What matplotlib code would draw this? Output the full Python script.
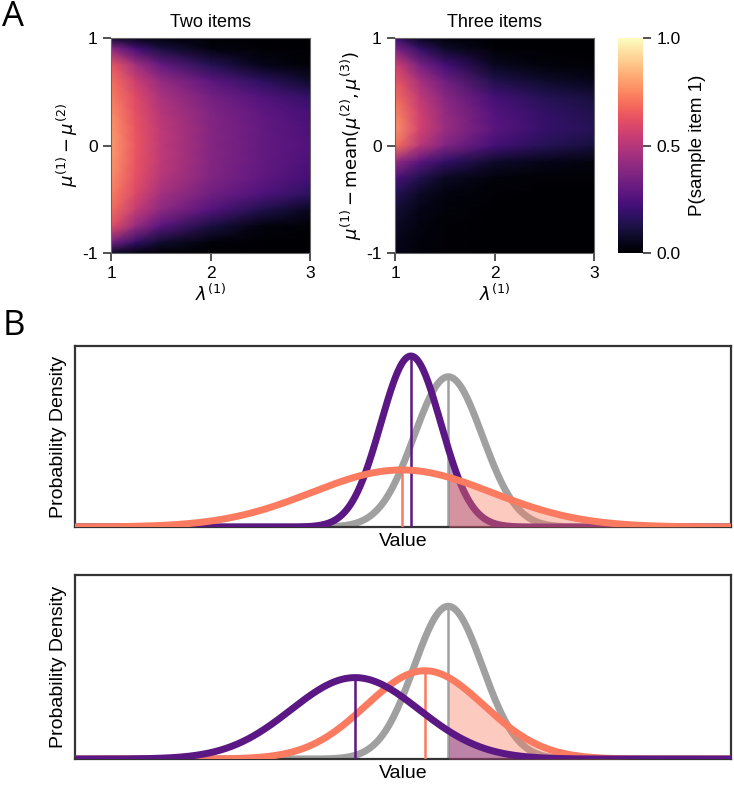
import matplotlib
matplotlib.use("Agg")
import matplotlib.pyplot as plt
import numpy as np

plt.rcParams['font.family'] = ['Liberation Sans', 'DejaVu Sans']
plt.rcParams['axes.unicode_minus'] = False

# ---- panel A data: P(sample item 1) ----
lam = [1.0, 1.25, 1.5, 2.0, 2.5, 3.0]
mu_diff = [1.0, 0.9, 0.75, 0.6, 0.45, 0.3, 0.15, 0.0, -0.15, -0.3, -0.45, -0.6, -0.75, -0.9, -1.0]

# one row per lambda value, columns follow mu_diff
p_two = [
    [0.10, 0.40, 0.64, 0.70, 0.73, 0.76, 0.78, 0.79, 0.78, 0.76, 0.73, 0.69, 0.62, 0.35, 0.08],
    [0.04, 0.22, 0.45, 0.55, 0.60, 0.62, 0.63, 0.64, 0.63, 0.62, 0.59, 0.53, 0.42, 0.18, 0.03],
    [0.02, 0.12, 0.30, 0.42, 0.47, 0.50, 0.52, 0.52, 0.52, 0.50, 0.46, 0.40, 0.27, 0.09, 0.01],
    [0.01, 0.03, 0.15, 0.28, 0.34, 0.37, 0.38, 0.38, 0.38, 0.37, 0.33, 0.26, 0.12, 0.02, 0.00],
    [0.00, 0.01, 0.05, 0.17, 0.26, 0.29, 0.30, 0.30, 0.30, 0.29, 0.25, 0.14, 0.03, 0.00, 0.00],
    [0.00, 0.00, 0.01, 0.08, 0.18, 0.23, 0.24, 0.25, 0.24, 0.22, 0.17, 0.06, 0.01, 0.00, 0.00],
]
p_three = [
    [0.20, 0.36, 0.56, 0.64, 0.69, 0.74, 0.77, 0.70, 0.42, 0.24, 0.15, 0.10, 0.07, 0.05, 0.04],
    [0.06, 0.18, 0.35, 0.46, 0.52, 0.56, 0.57, 0.50, 0.28, 0.14, 0.07, 0.04, 0.03, 0.02, 0.02],
    [0.02, 0.08, 0.22, 0.33, 0.39, 0.42, 0.43, 0.37, 0.18, 0.07, 0.03, 0.02, 0.01, 0.01, 0.01],
    [0.00, 0.01, 0.06, 0.14, 0.22, 0.26, 0.27, 0.22, 0.08, 0.02, 0.01, 0.00, 0.00, 0.00, 0.00],
    [0.00, 0.00, 0.02, 0.08, 0.15, 0.18, 0.19, 0.15, 0.05, 0.01, 0.00, 0.00, 0.00, 0.00, 0.00],
    [0.00, 0.00, 0.01, 0.05, 0.11, 0.14, 0.15, 0.11, 0.03, 0.01, 0.00, 0.00, 0.00, 0.00, 0.00],
]

# ---- panel B data: the three distributions (mean, sd) ----
gray_mean, gray_sd = 0.69, 0.52
top_means = {'purple': 0.12, 'orange': -0.02}
top_sds = {'purple': 0.457, 'orange': 1.37}
bot_means = {'purple': -0.73, 'orange': 0.335}
bot_sds = {'purple': 0.976, 'orange': 0.90}

colors = {'purple': '#5b1783', 'orange': '#fa7b5f', 'gray': '#a0a0a0'}

W, H = 734, 785
fig = plt.figure(figsize=(W / 100, H / 100), dpi=100)


def px_axes(left, top, right, bottom):
    return fig.add_axes([left / W, 1 - bottom / H, (right - left) / W, (bottom - top) / H])


def heatmap(ax, vals, ylabel, title):
    z = np.array(vals).T
    m = ax.pcolormesh(lam, mu_diff, z, shading='gouraud', cmap='magma', vmin=0, vmax=1)
    ax.set_xlim(1, 3)
    ax.set_ylim(-1, 1)
    ax.set_xticks([1, 2, 3])
    ax.set_yticks([-1, 0, 1])
    ax.set_yticklabels(['-1', '0', '1'])
    ax.tick_params(direction='out', length=6, width=1.2, labelsize=12.5, color='#333333')
    for s in ax.spines.values():
        s.set_color('#666666')
        s.set_linewidth(0.8)
    ax.set_xlabel(r'$\lambda^{(1)}$', fontsize=13, labelpad=2)
    ax.set_ylabel(ylabel, fontsize=13, labelpad=2)
    ax.set_title(title, fontsize=13, pad=8)
    return m


ax1 = px_axes(111, 38, 310, 253)
heatmap(ax1, p_two, r'$\mu^{(1)} - \mu^{(2)}$', 'Two items')
ax2 = px_axes(395, 38, 594, 253)
mesh = heatmap(ax2, p_three, r'$\mu^{(1)} - \mathrm{mean}(\mu^{(2)}, \mu^{(3)})$', 'Three items')

cax = px_axes(618, 38, 643, 253)
cb = fig.colorbar(mesh, cax=cax, ticks=[0, 0.5, 1.0], format='%.1f')
cb.outline.set_visible(False)
cax.tick_params(direction='out', length=6, width=1.2, labelsize=12.5, color='#333333')
cb.set_label('P(sample item 1)', fontsize=13.5, labelpad=6)


def normal_pdf(x, mu, sd):
    return np.exp(-0.5 * ((x - mu) / sd) ** 2) / (sd * np.sqrt(2 * np.pi))


def density_panel(ax, means, sds, order):
    x = np.linspace(-5, 5, 1200)
    g = normal_pdf(x, gray_mean, gray_sd)
    ax.plot(x, g, color=colors['gray'], lw=5, solid_capstyle='butt', zorder=2)
    ax.vlines(gray_mean, 0, normal_pdf(gray_mean, gray_mean, gray_sd), color=colors['gray'], lw=1.8, zorder=2)
    right = x >= gray_mean
    z = 3
    for name in order:
        y = normal_pdf(x, means[name], sds[name])
        ax.fill_between(x[right], 0, y[right], color=colors[name], alpha=0.4, lw=0, zorder=z)
        ax.plot(x, y, color=colors[name], lw=5, solid_capstyle='butt', zorder=z + 0.5)
        ax.vlines(means[name], 0, normal_pdf(means[name], means[name], sds[name]),
                  color=colors[name], lw=1.8, zorder=z + 0.5)
        z += 1
    ax.set_xlim(-5, 5)
    ax.set_ylim(0, 0.924)
    ax.set_xticks([])
    ax.set_yticks([])
    for s in ax.spines.values():
        s.set_color('#333333')
        s.set_linewidth(1.6)
    ax.set_xlabel('Value', fontsize=14, labelpad=4)
    ax.set_ylabel('Probability Density', fontsize=14, labelpad=6)


axb1 = px_axes(75, 346, 731, 527)
density_panel(axb1, top_means, top_sds, ['purple', 'orange'])
axb2 = px_axes(75, 575, 731, 759)
density_panel(axb2, bot_means, bot_sds, ['orange', 'purple'])

fig.text(2 / W, 1 - 0 / H, 'A', fontsize=25, family='Open Sans', va='top', ha='left')
fig.text(3 / W, 1 - 309 / H, 'B', fontsize=25, family='Open Sans', va='top', ha='left')

fig.savefig('out.png', dpi=100)
